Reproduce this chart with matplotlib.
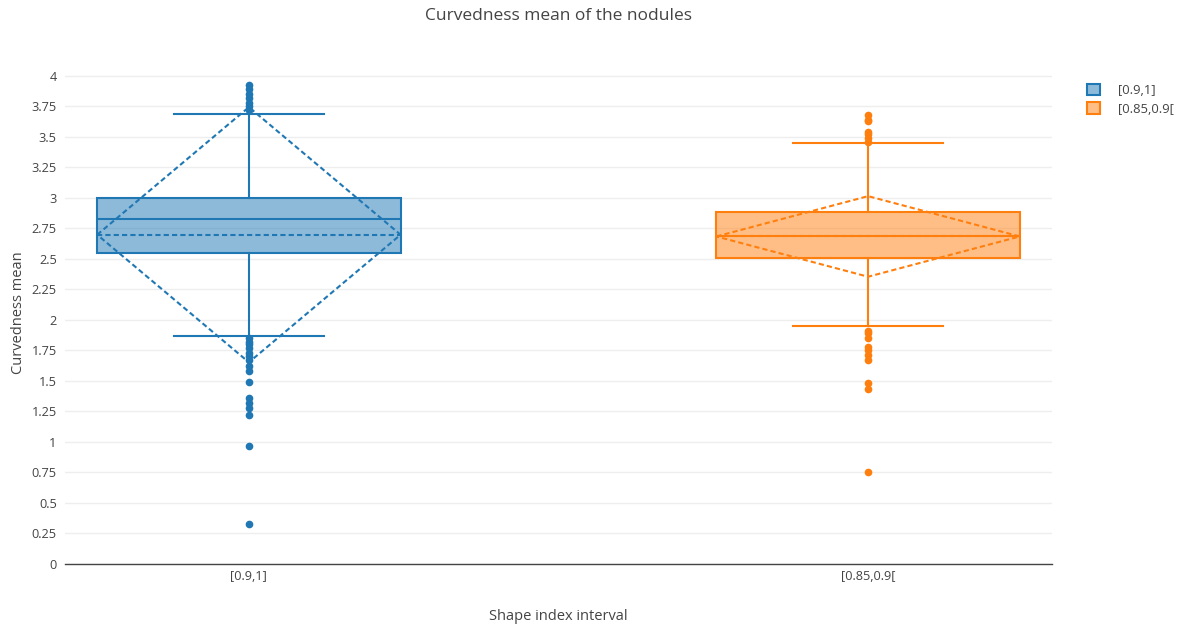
import matplotlib
matplotlib.use("Agg")
import matplotlib.pyplot as plt
from matplotlib.patches import Patch

plt.rcParams['font.family'] = ['Open Sans', 'DejaVu Sans']

# data
groups = ["[0.9,1]", "[0.85,0.9["]
colors = ["#1f77b4", "#ff7f0e"]
q1 = [2.549, 2.505]
median = [2.828, 2.683]
q3 = [3.000, 2.885]
whislo = [1.870, 1.953]
whishi = [3.686, 3.450]
means = [2.697, 2.683]
sds = [1.045, 0.330]
outliers = [
    [3.92, 3.89, 3.85, 3.82, 3.78, 3.75, 3.72,
     1.85, 1.82, 1.80, 1.77, 1.73, 1.70, 1.67, 1.62, 1.58, 1.49,
     1.36, 1.32, 1.28, 1.22, 0.97, 0.33],
    [3.675, 3.64, 3.63, 3.54, 3.52, 3.49, 3.46,
     1.91, 1.89, 1.85, 1.78, 1.75, 1.71, 1.67, 1.48, 1.43, 0.75],
]
yticks = [i * 0.25 for i in range(17)]

fig = plt.figure(figsize=(11.84, 6.25), dpi=100)
ax = fig.add_axes([0.0549, 0.0976, 0.8336, 0.8048])

box_w = 0.49
cap_w = 0.242
txt = "#444444"

for i in range(len(groups)):
    c = colors[i]
    stats = [dict(med=median[i], q1=q1[i], q3=q3[i], whislo=whislo[i],
                  whishi=whishi[i], fliers=outliers[i], mean=means[i])]
    ax.bxp(stats, positions=[i], widths=box_w, capwidths=cap_w,
           patch_artist=True, showmeans=False, manage_ticks=False,
           boxprops=dict(facecolor=c + "80", edgecolor=c, linewidth=1.5),
           medianprops=dict(color=c, linewidth=1.5),
           whiskerprops=dict(color=c, linewidth=1.5),
           capprops=dict(color=c, linewidth=1.5),
           flierprops=dict(marker="o", markerfacecolor=c, markeredgecolor=c,
                           markersize=4.5, linestyle="none"))
    # mean line and sd diamond
    m, s = means[i], sds[i]
    ax.plot([i - box_w / 2, i + box_w / 2], [m, m], color=c, lw=1.5,
            ls=(0, (2.5, 1.5)), zorder=4)
    ax.plot([i - box_w / 2, i, i + box_w / 2, i, i - box_w / 2],
            [m, m + s, m, m - s, m], color=c, lw=1.5,
            ls=(0, (2.5, 1.5)), zorder=4)

ax.set_xlim(-0.297, 1.297)
ax.set_ylim(0, 4.12)
ax.set_yticks(yticks)
ax.set_yticklabels([f"{v:g}" for v in yticks])
ax.set_xticks(range(len(groups)))
ax.set_xticklabels(groups)
ax.grid(axis="y", color="#eeeeee", lw=1)
ax.set_axisbelow(True)
ax.axhline(0, color="#444444", lw=1, zorder=2, clip_on=False)
for sp in ax.spines.values():
    sp.set_visible(False)
ax.tick_params(axis="both", length=0, colors=txt, labelsize=9.2)
ax.tick_params(axis="y", pad=6)
ax.tick_params(axis="x", pad=4)

ax.set_xlabel("Shape index interval", fontsize=10.5, color=txt, labelpad=19)
ax.set_ylabel("Curvedness mean", fontsize=10.5, color=txt, labelpad=4)
fig.suptitle("Curvedness mean of the nodules", fontsize=12.5, color=txt,
             x=0.472, y=0.988)

handles = [Patch(facecolor=c + "80", edgecolor=c, linewidth=1.5) for c in colors]
leg = fig.legend(handles, groups, loc="upper left", bbox_to_anchor=(0.908, 0.885),
                 frameon=False, fontsize=9.4, handlelength=1.0, handleheight=1.0,
                 handletextpad=1.4, labelspacing=0.42)
for t in leg.get_texts():
    t.set_color(txt)

fig.savefig("out.png", dpi=100)
